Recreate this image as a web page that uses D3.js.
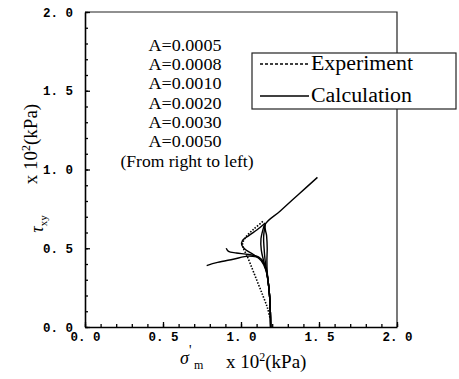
<!DOCTYPE html>
<html>
<head>
<meta charset="utf-8">
<script src="https://cdn.jsdelivr.net/npm/d3@7"></script>
<style>
  body { margin: 0; background: #fff; }
  svg { display: block; }
</style>
</head>
<body>
<div id="root"></div>
<script>
// tick labels
const xTickVals = [0, 0.5, 1.0, 1.5, 2.0];
const xTickLabels = ['0. 0', '0. 5', '1. 0', '1. 5', '2. 0'];
const yTickVals = [0, 0.5, 1.0, 1.5, 2.0];
const yTickLabels = ['0. 0', '0. 5', '1. 0', '1. 5', '2. 0'];

// A values listed on the chart
const aLabels = ['A=0.0005', 'A=0.0008', 'A=0.0010', 'A=0.0020', 'A=0.0030', 'A=0.0050'];

// calculation curves [sigma_m, tau_xy] in x10^2 kPa
const calcA0005 = [[1.19, 0], [1.188, 0.1], [1.183, 0.2], [1.175, 0.28], [1.168, 0.35], [1.166, 0.42], [1.168, 0.5], [1.164, 0.58], [1.155, 0.65], [1.25, 0.735], [1.37, 0.843], [1.49, 0.95]];
const calcA0008 = [[1.19, 0], [1.188, 0.1], [1.183, 0.2], [1.175, 0.28], [1.165, 0.35], [1.155, 0.42], [1.148, 0.5], [1.145, 0.57], [1.155, 0.655]];
const calcA0010 = [[1.19, 0], [1.188, 0.1], [1.183, 0.2], [1.175, 0.28], [1.163, 0.35], [1.145, 0.42], [1.13, 0.49], [1.128, 0.56], [1.15, 0.65]];
const calcA0020 = [[1.19, 0], [1.188, 0.1], [1.183, 0.2], [1.175, 0.28], [1.16, 0.36], [1.13, 0.42], [1.08, 0.46], [1.03, 0.49], [1.005, 0.52], [1.01, 0.55], [1.05, 0.58], [1.12, 0.63], [1.155, 0.66]];
const calcA0030 = [[1.19, 0], [1.188, 0.1], [1.183, 0.2], [1.175, 0.28], [1.16, 0.37], [1.12, 0.44], [1.05, 0.46], [0.97, 0.47], [0.92, 0.48], [0.905, 0.5]];
const calcA0050 = [[1.19, 0], [1.188, 0.1], [1.183, 0.2], [1.175, 0.28], [1.16, 0.37], [1.13, 0.43], [1.05, 0.45], [0.95, 0.43], [0.85, 0.41], [0.78, 0.39]];

// experiment (dotted)
const experiment = [[1.185, 0.06], [1.17, 0.12], [1.14, 0.2], [1.1, 0.3], [1.06, 0.4], [1.035, 0.46], [1.015, 0.5], [1.01, 0.53], [1.03, 0.57], [1.08, 0.62], [1.14, 0.67]];

const w = 459, h = 379;
const svg = d3.select('#root').append('svg').attr('width', w).attr('height', h);

const x = d3.scaleLinear().domain([0, 2]).range([85, 397]);
const y = d3.scaleLinear().domain([0, 2]).range([327, 12]);

// frame (top + right)
svg.append('path')
  .attr('d', `M${x(0)},${y(2)}H${x(2)}V${y(0)}`)
  .attr('fill', 'none').attr('stroke', '#222').attr('stroke-width', 1.2);

// minor ticks
const minor = d3.range(0, 2.01, 0.1);
svg.append('g')
  .attr('transform', `translate(0,${y(0)})`)
  .call(d3.axisBottom(x).tickValues(minor).tickSize(-3).tickFormat(''))
  .call(g => g.select('.domain').remove());
svg.append('g')
  .attr('transform', `translate(${x(0)},0)`)
  .call(d3.axisLeft(y).tickValues(minor).tickSize(-3).tickFormat(''))
  .call(g => g.select('.domain').remove());

// major axes
const xAxis = svg.append('g')
  .attr('transform', `translate(0,${y(0)})`)
  .call(d3.axisBottom(x).tickValues(xTickVals).tickSizeInner(-5).tickSizeOuter(0).tickPadding(5)
    .tickFormat((d, i) => xTickLabels[i]));
const yAxis = svg.append('g')
  .attr('transform', `translate(${x(0)},0)`)
  .call(d3.axisLeft(y).tickValues(yTickVals).tickSizeInner(-5).tickSizeOuter(0).tickPadding(12)
    .tickFormat((d, i) => yTickLabels[i]));

[xAxis, yAxis].forEach(g => {
  g.select('.domain').attr('stroke-width', 1.6).attr('stroke', '#000');
  g.selectAll('text').attr('font-family', 'Liberation Mono, monospace').attr('font-size', 12.5)
    .attr('fill', '#000').attr('font-weight', 'bold');
});
svg.selectAll('.tick line').attr('stroke', '#000').attr('stroke-width', 1.3);

// curves
const line = d3.line().x(d => x(d[0])).y(d => y(d[1])).curve(d3.curveCatmullRom.alpha(0.5));
[calcA0005, calcA0008, calcA0010, calcA0020, calcA0030, calcA0050].forEach(c => {
  svg.append('path').attr('d', line(c))
    .attr('fill', 'none').attr('stroke', '#000').attr('stroke-width', 1.4);
});
svg.append('path').attr('d', line(experiment))
  .attr('fill', 'none').attr('stroke', '#000').attr('stroke-width', 1.6)
  .attr('stroke-dasharray', '1.5,1.5');

// A labels
const serif = 'Liberation Serif, serif';
aLabels.forEach((t, i) => {
  svg.append('text').attr('x', 185).attr('y', 51 + i * 19.2)
    .attr('text-anchor', 'middle').attr('font-family', serif).attr('font-size', 16.5)
    .attr('textLength', 73).attr('lengthAdjust', 'spacingAndGlyphs')
    .text(t);
});
svg.append('text').attr('x', 187).attr('y', 167)
  .attr('text-anchor', 'middle').attr('font-family', serif).attr('font-size', 16)
  .attr('textLength', 133).attr('lengthAdjust', 'spacingAndGlyphs')
  .text('(From right to left)');

// legend
const lg = svg.append('g');
lg.append('rect').attr('x', 252).attr('y', 53).attr('width', 204).attr('height', 56)
  .attr('fill', '#fff').attr('stroke', '#222').attr('stroke-width', 1.2);
lg.append('line').attr('x1', 260).attr('x2', 309).attr('y1', 64).attr('y2', 64)
  .attr('stroke', '#000').attr('stroke-width', 1.3).attr('stroke-dasharray', '3,2');
lg.append('line').attr('x1', 260).attr('x2', 309).attr('y1', 96).attr('y2', 96)
  .attr('stroke', '#000').attr('stroke-width', 1.5);
lg.append('text').attr('x', 311).attr('y', 70).attr('font-family', serif).attr('font-size', 20)
  .attr('textLength', 102).attr('lengthAdjust', 'spacingAndGlyphs').text('Experiment');
lg.append('text').attr('x', 311).attr('y', 102).attr('font-family', serif).attr('font-size', 20)
  .attr('textLength', 101).attr('lengthAdjust', 'spacingAndGlyphs').text('Calculation');

// x axis title
const xt = svg.append('g');
xt.append('text').attr('x', 180).attr('y', 364).attr('font-family', serif).attr('font-size', 18)
  .attr('font-style', 'italic').text('σ');
xt.append('text').attr('x', 189).attr('y', 355).attr('font-family', serif).attr('font-size', 14).text('\'');
xt.append('text').attr('x', 194).attr('y', 369).attr('font-family', serif).attr('font-size', 12).text('m');
const xu = xt.append('text').attr('x', 226).attr('y', 368).attr('font-family', serif).attr('font-size', 19);
xu.append('tspan').text('x 10');
xu.append('tspan').attr('font-size', 12).attr('dy', -7).text('2');
xu.append('tspan').attr('dy', 7).text('(kPa)');

// y axis title
const yu = svg.append('text').attr('transform', 'translate(37,144) rotate(-90)')
  .attr('text-anchor', 'middle').attr('font-family', serif).attr('font-size', 19);
yu.append('tspan').text('x 10');
yu.append('tspan').attr('font-size', 12).attr('dy', -7).text('2');
yu.append('tspan').attr('dy', 7).text('(kPa)');
const tau = svg.append('text').attr('transform', 'translate(43,224) rotate(-90)')
  .attr('text-anchor', 'middle').attr('font-family', serif).attr('font-size', 18);
tau.append('tspan').attr('font-style', 'italic').text('τ');
tau.append('tspan').attr('font-size', 11).attr('dy', 4).text('xy');
</script>
</body>
</html>
